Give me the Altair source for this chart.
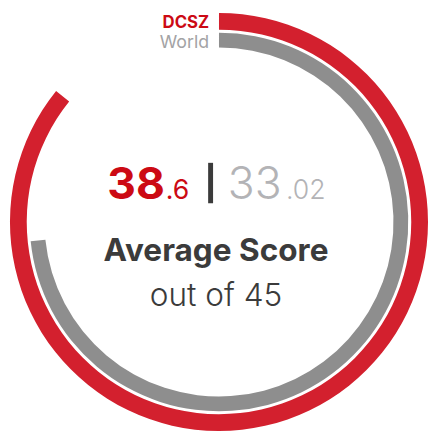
import math
import altair as alt
import pandas as pd

# ---- data ----
series = ["DCSZ", "World"]
scores = [38.6, 33.02]
max_score = 45
title_line = "Average Score"
subtitle_line = "out of " + str(max_score)

df = pd.DataFrame({"series": series, "score": scores, "start": [0, 0]})
df["whole"] = [str(s).split(".")[0] for s in scores]
df["frac"] = ["." + str(s).split(".")[1] for s in scores]

W = H = 426
CX = CY = 214
FONT = "Inter"
RED = "#d3202e"
RED_TXT = "#cc0a14"
GREY = "#8e8e8e"
GREY_TXT = "#b3b3b6"
DARK = "#3b3b3b"

theta_scale = alt.Scale(domain=[0, max_score], range=[0, 2 * math.pi])

def arc_layer(name, r_out, r_in, color):
    return (
        alt.Chart(df)
        .transform_filter(alt.datum.series == name)
        .mark_arc(color=color)
        .encode(
            theta=alt.Theta("start:Q", scale=theta_scale, stack=None),
            theta2=alt.Theta2("score:Q"),
            radius=alt.value(r_out),
            radius2=alt.value(r_in),
            x=alt.value(CX),
            y=alt.value(CY),
        )
    )

red_arc = arc_layer("DCSZ", 212, 195, RED)
grey_arc = arc_layer("World", 192, 177, GREY)

base = alt.Chart(df)

legend_dcsz = base.transform_filter(alt.datum.series == "DCSZ").mark_text(
    font=FONT, fontSize=17, fontWeight="bold", color=RED_TXT, align="right", baseline="alphabetic"
).encode(text="series:N", x=alt.value(204), y=alt.value(17))

legend_world = base.transform_filter(alt.datum.series == "World").mark_text(
    font=FONT, fontSize=18, color="#a3a3a5", align="right", baseline="alphabetic"
).encode(text="series:N", x=alt.value(204), y=alt.value(38))

whole_dcsz = base.transform_filter(alt.datum.series == "DCSZ").mark_text(
    font=FONT, fontSize=45, fontWeight="bold", color=RED_TXT, align="right", baseline="alphabetic"
).encode(text="whole:N", x=alt.value(159), y=alt.value(191))

frac_dcsz = base.transform_filter(alt.datum.series == "DCSZ").mark_text(
    font=FONT, fontSize=27, color=RED_TXT, align="left", baseline="alphabetic"
).encode(text="frac:N", x=alt.value(160), y=alt.value(191))

whole_world = base.transform_filter(alt.datum.series == "World").mark_text(
    font=FONT, fontSize=45, fontWeight=300, color=GREY_TXT, align="left", baseline="alphabetic"
).encode(text="whole:N", x=alt.value(223), y=alt.value(191))

frac_world = base.transform_filter(alt.datum.series == "World").mark_text(
    font=FONT, fontSize=27, fontWeight=300, color=GREY_TXT, align="left", baseline="alphabetic"
).encode(text="frac:N", x=alt.value(282), y=alt.value(191))

sep = base.transform_filter(alt.datum.series == "DCSZ").mark_rule(
    color=DARK, strokeWidth=5
).encode(x=alt.value(205.5), y=alt.value(154), y2=alt.value(195))

title_txt = alt.Chart(pd.DataFrame({"t": [title_line]})).mark_text(
    font=FONT, fontSize=32, fontWeight="bold", color=DARK, align="center", baseline="alphabetic"
).encode(text="t:N", x=alt.value(211), y=alt.value(254))

sub_txt = alt.Chart(pd.DataFrame({"t": [subtitle_line]})).mark_text(
    font=FONT, fontSize=32, fontWeight=300, color=DARK, align="center", baseline="alphabetic"
).encode(text="t:N", x=alt.value(211), y=alt.value(299))

chart = (
    alt.layer(red_arc, grey_arc, legend_dcsz, legend_world, whole_dcsz, frac_dcsz,
              whole_world, frac_world, sep, title_txt, sub_txt)
    .properties(width=W, height=H, padding=0)
    .configure_view(stroke=None)
)

chart.save("out.html", embed_options={"renderer": "svg", "actions": False})
